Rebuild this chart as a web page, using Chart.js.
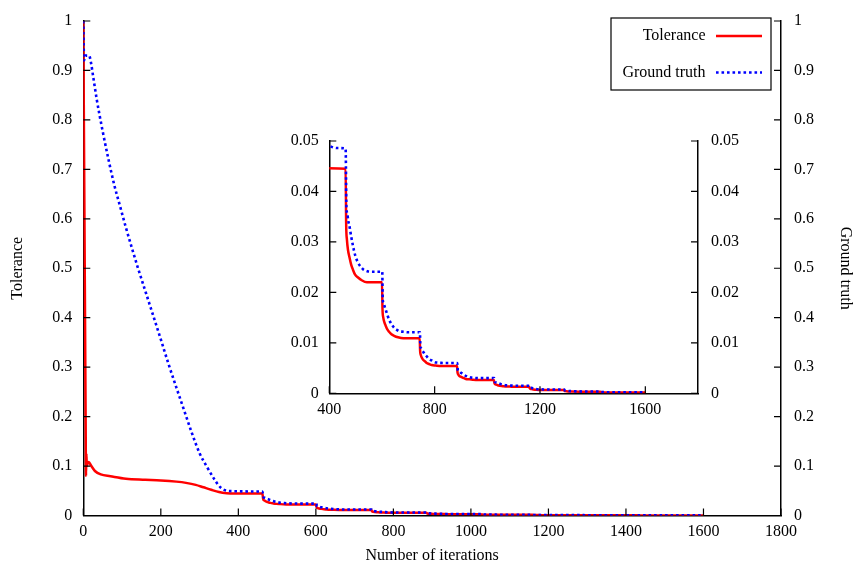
<!DOCTYPE html>
<html>
<head>
<meta charset="utf-8">
<script src="https://cdn.jsdelivr.net/npm/chart.js@4.4.1/dist/chart.umd.min.js"></script>
<style>
  html, body { margin: 0; padding: 0; background: #fff; }
  #wrap { position: relative; width: 853px; height: 564px; overflow: hidden; }
  #main { position: absolute; left: 0; top: 0; }
  #inset { position: absolute; left: 260px; top: 120px; }
</style>
</head>
<body>
<div id="wrap">
  <canvas id="main" width="853" height="564"></canvas>
  <canvas id="inset" width="520" height="300"></canvas>
</div>
<script>
// ---------------- data ----------------
const iterTol = [0, 3, 6, 7, 8, 9, 11, 14, 20, 30, 45, 70, 110, 160, 200, 240, 265, 290, 310, 330, 350, 370, 390, 462,
  464, 467, 471, 476, 483, 489, 498, 508, 523, 543, 600,
  602, 605, 609, 614, 621, 627, 636, 646, 661, 681, 743,
  745, 748, 752, 757, 764, 770, 779, 789, 804, 824, 885,
  887, 890, 894, 899, 906, 912, 921, 931, 946, 966, 1025,
  1027, 1030, 1034, 1039, 1046, 1052, 1061, 1071, 1086, 1106, 1159,
  1161, 1164, 1168, 1175, 1186, 1200, 1230, 1291,
  1293, 1297, 1305, 1320, 1350, 1429,
  1431, 1436, 1450, 1480, 1600];
const tolerance = [1.0, 0.6, 0.2, 0.08, 0.125, 0.1, 0.105, 0.108, 0.101, 0.09, 0.083, 0.0795, 0.0745, 0.0725, 0.071, 0.0685, 0.066, 0.062, 0.057, 0.052, 0.0475, 0.0452, 0.0446, 0.0445,
  0.0337, 0.0304, 0.0284, 0.0271, 0.0255, 0.0246, 0.0235, 0.0230, 0.0224, 0.0220, 0.0220,
  0.0167, 0.0150, 0.0141, 0.0134, 0.0126, 0.0122, 0.0117, 0.0114, 0.0111, 0.0109, 0.0109,
  0.0083, 0.0075, 0.0070, 0.0066, 0.0063, 0.0060, 0.0058, 0.0056, 0.0055, 0.0054, 0.0054,
  0.0041, 0.0037, 0.0034, 0.0033, 0.0031, 0.0030, 0.0028, 0.0028, 0.0027, 0.00265, 0.00265,
  0.0020, 0.0018, 0.0017, 0.0016, 0.0015, 0.00146, 0.00139, 0.00136, 0.00133, 0.0013, 0.0013,
  0.0010, 0.0009, 0.00084, 0.00077, 0.0007, 0.00067, 0.00065, 0.00065,
  0.0005, 0.00043, 0.00038, 0.00034, 0.00032, 0.00032,
  0.00025, 0.0002, 0.00017, 0.00016, 0.00016];

const iterGT = [0, 2, 5, 15, 20, 25, 35, 50, 65, 80, 95, 110, 125, 140, 160, 180, 200, 220, 240, 260, 280, 300, 320, 340, 355, 370, 385, 400, 430, 462,
  465, 468, 472, 477, 483, 490, 499, 509, 519, 528, 544, 560, 601,
  603, 606, 610, 614, 620, 627, 636, 646, 656, 665, 681, 698, 744,
  746, 749, 753, 757, 763, 770, 779, 789, 799, 808, 824, 841, 886,
  888, 891, 895, 899, 905, 912, 921, 931, 941, 950, 966, 1026,
  1028, 1031, 1035, 1039, 1045, 1052, 1061, 1071, 1081, 1090, 1106, 1160,
  1162, 1166, 1172, 1180, 1195, 1215, 1240, 1292,
  1294, 1300, 1310, 1330, 1360, 1430,
  1432, 1440, 1455, 1480, 1600];
const groundTruth = [1.0, 0.92, 0.93, 0.93, 0.915, 0.89, 0.84, 0.777, 0.72, 0.668, 0.625, 0.582, 0.542, 0.503, 0.454, 0.405, 0.356, 0.306, 0.259, 0.213, 0.167, 0.126, 0.097, 0.071, 0.056, 0.0502, 0.0493, 0.049, 0.0486, 0.0485,
  0.0369, 0.0357, 0.0342, 0.0330, 0.0311, 0.0292, 0.0272, 0.0259, 0.0251, 0.0246, 0.0242, 0.0241, 0.0241,
  0.0185, 0.0179, 0.0172, 0.0166, 0.0156, 0.0146, 0.0137, 0.0130, 0.0126, 0.0123, 0.0122, 0.0121, 0.0121,
  0.0092, 0.0089, 0.0085, 0.0082, 0.0077, 0.0073, 0.0068, 0.0065, 0.0062, 0.0061, 0.00603, 0.0060, 0.0060,
  0.0046, 0.0044, 0.0043, 0.0041, 0.0039, 0.0036, 0.0034, 0.0032, 0.0031, 0.00306, 0.0030, 0.0030,
  0.0023, 0.0022, 0.0021, 0.00206, 0.00194, 0.0018, 0.0017, 0.0016, 0.00156, 0.00153, 0.0015, 0.0015,
  0.00115, 0.0011, 0.001, 0.0009, 0.0008, 0.00076, 0.00075, 0.00075,
  0.00057, 0.00052, 0.00045, 0.0004, 0.00037, 0.00037,
  0.00029, 0.00025, 0.00021, 0.00019, 0.00019];

const mainXTicks = [0, 200, 400, 600, 800, 1000, 1200, 1400, 1600, 1800];
const mainYTicks = [0, 0.1, 0.2, 0.3, 0.4, 0.5, 0.6, 0.7, 0.8, 0.9, 1];
const insetXTicks = [400, 800, 1200, 1600];
const insetYTicks = [0, 0.01, 0.02, 0.03, 0.04, 0.05];

const seriesNames = ['Tolerance', 'Ground truth'];
const axisTitles = { x: 'Number of iterations', y: 'Tolerance', y2: 'Ground truth' };

// ---------------- helpers ----------------
const FONT = 'Liberation Serif';
const tickFont = { family: FONT, size: 16, lineHeight: 1 };
const fmt = v => String(parseFloat(Number(v).toFixed(4)));
const setTicks = arr => (s => { s.ticks = arr.map(v => ({ value: v })); });

function pts(xs, ys) { return xs.map((x, i) => ({ x: x, y: ys[i] })); }

function makeDatasets(yRight) {
  return [
    {
      label: seriesNames[0], data: pts(iterTol, tolerance), yAxisID: 'y',
      borderColor: '#ff0000', borderWidth: 2.5, pointRadius: 0,
      cubicInterpolationMode: 'monotone', order: 2, fill: false
    },
    {
      label: seriesNames[1], data: pts(iterGT, groundTruth), yAxisID: yRight,
      borderColor: '#0000ff', borderWidth: 2.6, borderDash: [2.6, 2.9], borderCapStyle: 'butt',
      pointRadius: 0, cubicInterpolationMode: 'monotone', order: 1, fill: false
    }
  ];
}

const inwardTicks = {
  id: 'inwardTicks',
  afterDatasetsDraw(chart, args, opts) {
    const ctx = chart.ctx, a = chart.chartArea, len = opts.len || 7;
    ctx.save();
    ctx.strokeStyle = '#000';
    ctx.lineWidth = 1.2;
    ctx.beginPath();
    for (const s of Object.values(chart.scales)) {
      for (const t of s.ticks) {
        const p = s.getPixelForValue(t.value);
        if (s.axis === 'x') { ctx.moveTo(p, a.bottom); ctx.lineTo(p, a.bottom - len); }
        else if (s.position === 'left') { ctx.moveTo(a.left, p); ctx.lineTo(a.left + len, p); }
        else { ctx.moveTo(a.right, p); ctx.lineTo(a.right - len, p); }
      }
    }
    ctx.stroke();
    ctx.restore();
  }
};

const boxLegend = {
  id: 'boxLegend',
  afterDraw(chart) {
    const ctx = chart.ctx;
    ctx.save();
    ctx.strokeStyle = '#000';
    ctx.lineWidth = 1.2;
    ctx.strokeRect(611, 18, 160, 72);
    ctx.font = '16px "' + FONT + '"';
    ctx.fillStyle = '#000';
    ctx.textAlign = 'right';
    ctx.textBaseline = 'middle';
    const rows = [36, 72.5];
    chart.data.datasets.forEach((ds, i) => {
      const y = rows[i];
      ctx.fillText(ds.label, 705.5, y);
      ctx.beginPath();
      ctx.setLineDash(ds.borderDash || []);
      ctx.lineCap = 'butt';
      ctx.lineWidth = ds.borderWidth;
      ctx.strokeStyle = ds.borderColor;
      ctx.moveTo(716, y);
      ctx.lineTo(762, y);
      ctx.stroke();
    });
    ctx.restore();
  }
};

function yAxis(pos, min, max, tickArr, width, pad, title) {
  return {
    type: 'linear', position: pos, min: min, max: max,
    afterBuildTicks: setTicks(tickArr),
    afterFit: s => { s.width = width; },
    grid: { display: false, drawTicks: false },
    border: { display: true, color: '#000', width: 1.5 },
    ticks: { font: tickFont, color: '#000', padding: pad, callback: fmt },
    title: title ? { display: true, text: title.text, font: { family: FONT, size: 16, lineHeight: 1 }, color: '#000', padding: { top: title.pad, bottom: 0 } } : { display: false }
  };
}

function xAxis(min, max, tickArr, height, pad, title) {
  return {
    type: 'linear', position: 'bottom', min: min, max: max,
    afterBuildTicks: setTicks(tickArr),
    afterFit: s => { s.height = height; },
    grid: { display: false, drawTicks: false },
    border: { display: true, color: '#000', width: 1.5 },
    ticks: { font: tickFont, color: '#000', padding: pad, callback: fmt, maxRotation: 0, autoSkip: false },
    title: title ? { display: true, text: title, font: { family: FONT, size: 16, lineHeight: 1 }, color: '#000', padding: { top: 0, bottom: 0 } } : { display: false }
  };
}

// ---------------- main chart ----------------
new Chart(document.getElementById('main'), {
  type: 'line',
  data: { datasets: makeDatasets('y2') },
  options: {
    responsive: false, animation: false, devicePixelRatio: 1,
    layout: { padding: { top: 12, left: 0, right: 0, bottom: 0 } },
    plugins: { legend: { display: false }, tooltip: { enabled: false }, inwardTicks: { len: 7 } },
    scales: {
      x: xAxis(0, 1800, mainXTicks, 48.5, 8, axisTitles.x),
      y: yAxis('left', 0, 1, mainYTicks, 83.3, 11, { text: axisTitles.y, pad: 10 }),
      y2: yAxis('right', 0, 1, mainYTicks, 72, 13, { text: axisTitles.y2, pad: 0 })
    }
  },
  plugins: [inwardTicks, boxLegend]
});

// ---------------- inset chart ----------------
new Chart(document.getElementById('inset'), {
  type: 'line',
  data: { datasets: makeDatasets('y2') },
  options: {
    responsive: false, animation: false, devicePixelRatio: 1,
    layout: { padding: { top: 16, left: 0, right: 0, bottom: 0 } },
    plugins: { legend: { display: false }, tooltip: { enabled: false }, inwardTicks: { len: 7 } },
    scales: {
      x: xAxis(400, 1800, insetXTicks, 26.7, 8.5, null),
      y: yAxis('left', 0, 0.05, insetYTicks, 69.3, 10.5, null),
      y2: yAxis('right', 0, 0.05, insetYTicks, 82, 13, null)
    }
  },
  plugins: [inwardTicks]
});
</script>
</body>
</html>
